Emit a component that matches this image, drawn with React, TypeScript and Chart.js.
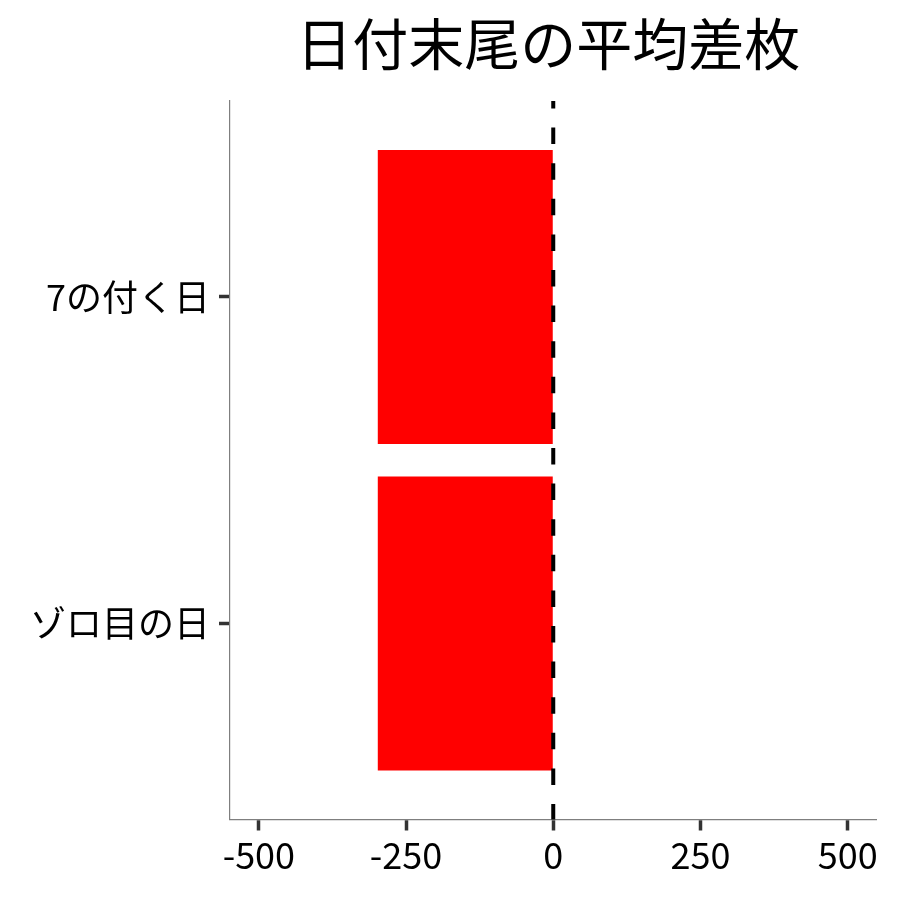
// App.tsx
import React, { useEffect, useRef } from 'react';
import Chart from 'chart.js/auto';

const FONT = '"Noto Sans CJK JP", "Noto Sans", sans-serif';

const title = '日付末尾の平均差枚';
const categories = ['7の付く日', 'ゾロ目の日'];
const avgDiff = [-298, -298];
const xTicks = [-500, -250, 0, 250, 500];
const xRange = [-549, 549];
const refLine = 0;

// title centred over the plot panel (not the whole canvas)
const panelTitle = {
  id: 'panelTitle',
  afterDraw(chart: any) {
    const { ctx, chartArea } = chart;
    ctx.save();
    ctx.fillStyle = '#000';
    ctx.font = `56px ${FONT}`;
    ctx.textAlign = 'center';
    ctx.textBaseline = 'middle';
    ctx.fillText(title, (chartArea.left + chartArea.right) / 2 - 5, 44);
    ctx.restore();
  },
};

// dashed vertical reference line at x = 0
const zeroLine = {
  id: 'zeroLine',
  afterDatasetsDraw(chart: any) {
    const { ctx, chartArea } = chart;
    const x = chart.scales.x.getPixelForValue(refLine);
    ctx.save();
    ctx.strokeStyle = '#000';
    ctx.lineWidth = 4;
    ctx.setLineDash([16.5, 19.1]);
    ctx.lineDashOffset = 9;
    ctx.beginPath();
    ctx.moveTo(x, chartArea.top);
    ctx.lineTo(x, chartArea.bottom);
    ctx.stroke();
    ctx.restore();
  },
};

const BarChart: React.FC = () => {
  const chartRef = useRef<HTMLCanvasElement | null>(null);
  const chartInstanceRef = useRef<Chart<'bar'> | null>(null);

  useEffect(() => {
    if (!chartRef.current) return;
    const ctx = chartRef.current.getContext('2d');

    if (chartInstanceRef.current) {
      chartInstanceRef.current.destroy();
    }

    chartInstanceRef.current = new Chart(ctx as CanvasRenderingContext2D, {
      type: 'bar',
      data: {
        datasets: [
          {
            data: avgDiff.map((v, i) => ({ x: v, y: i + 1 })) as any,
            backgroundColor: '#FF0000',
            borderWidth: 0,
            barPercentage: 0.9,
            categoryPercentage: 1,
          },
        ],
      },
      options: {
        indexAxis: 'y',
        responsive: false,
        animation: false,
        layout: {
          padding: { top: 101, right: 23.5, bottom: 0, left: 0 },
        },
        plugins: {
          legend: { display: false },
          tooltip: { enabled: false },
          title: { display: false },
        },
        scales: {
          x: {
            type: 'linear',
            min: xRange[0],
            max: xRange[1],
            afterBuildTicks: (scale: any) => {
              scale.ticks = xTicks.map((v) => ({ value: v }));
            },
            afterFit: (scale: any) => {
              scale.height = 80.5;
            },
            border: { display: true, color: '#7f7f7f', width: 1.2 },
            grid: {
              drawOnChartArea: false,
              drawTicks: true,
              tickLength: 11,
              tickWidth: 3.5,
              tickColor: '#333333',
            },
            ticks: {
              color: '#000',
              padding: 3,
              maxRotation: 0,
              font: { family: FONT, size: 36 },
            },
          },
          y: {
            type: 'linear',
            min: 0.4,
            max: 2.6,
            reverse: true,
            offset: false,
            afterBuildTicks: (scale: any) => {
              scale.ticks = categories.map((_, i) => ({ value: i + 1 }));
            },
            afterFit: (scale: any) => {
              scale.width = 230;
            },
            border: { display: true, color: '#7f7f7f', width: 1.2 },
            grid: {
              offset: false,
              drawOnChartArea: false,
              drawTicks: true,
              tickLength: 11,
              tickWidth: 3.5,
              tickColor: '#333333',
            },
            ticks: {
              color: '#000',
              padding: 9,
              font: { family: FONT, size: 36 },
              callback: (value: any) => categories[Number(value) - 1] ?? '',
            },
          },
        },
      },
      plugins: [panelTitle, zeroLine],
    });

    return () => {
      if (chartInstanceRef.current) {
        chartInstanceRef.current.destroy();
        chartInstanceRef.current = null;
      }
    };
  }, []);

  return <canvas ref={chartRef} width={900} height={900} />;
};

export default function App() {
  return (
    <div style={{ position: 'absolute', left: 0, top: 0, width: 900, height: 900, background: '#fff' }}>
      <BarChart />
    </div>
  );
}
